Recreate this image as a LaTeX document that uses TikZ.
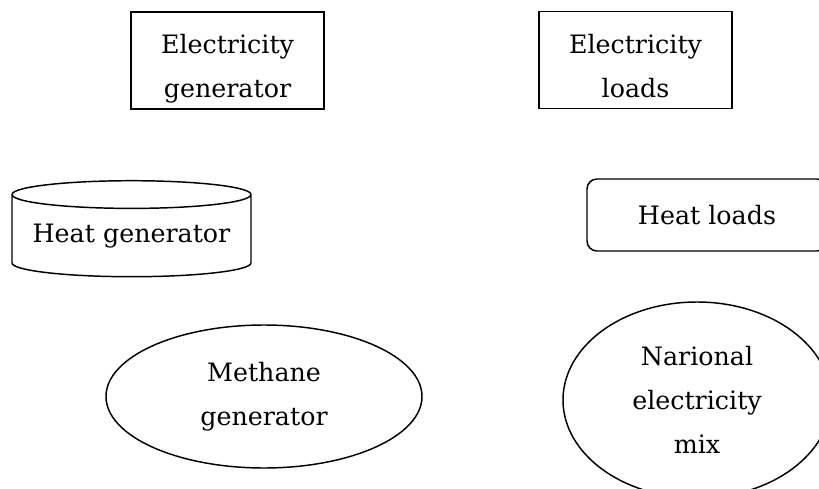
\documentclass[tikz,border=0pt]{standalone}
\usepackage{fontspec}
\setmainfont{DejaVu Serif}
\usetikzlibrary{shapes.geometric}

\begin{document}
\begin{tikzpicture}[
  x=0.75pt, y=-0.75pt,
  % ── one look for every box: thin black line, big serif text ──
  bx/.style={draw=black, line width=1.1pt, align=center, inner sep=0pt,
             font=\fontsize{19}{33}\selectfont},
  sq/.style={bx, rectangle, minimum width=144.75pt, minimum height=72.75pt,
             text height=56pt, text depth=0pt},
  cyl/.style={bx, cylinder, shape border rotate=90, aspect=0.14,
              minimum width=179.25pt, minimum height=72pt},
  rr/.style={bx, rectangle, rounded corners=7.5pt,
             minimum width=180pt, minimum height=54pt},
  ov/.style={bx, ellipse},
]
\useasboundingbox (0,0) rectangle (819,489);

% ── top row: generator and loads ─────────────────────────
\node[sq] (egen) at (227.5,60.5) {Electricity\\ generator};
\node[sq] (eload) at (635.5,60) {Electricity\\ loads};

% ── middle row ───────────────────────────────────────────
\node[cyl] (hgen) at (131.5,236) {Heat generator};
\node[rr] (hload) at (707,215) {Heat loads};

% ── bottom row ───────────────────────────────────────────
\node[ov, minimum width=237pt, minimum height=107.25pt] (mgen)
  at (264,396.5) {Methane\\ generator};
\node[ov, minimum width=201pt, minimum height=147pt] (nmix)
  at (697,400) {Narional\\ electricity\\ mix};
\end{tikzpicture}
\end{document}
